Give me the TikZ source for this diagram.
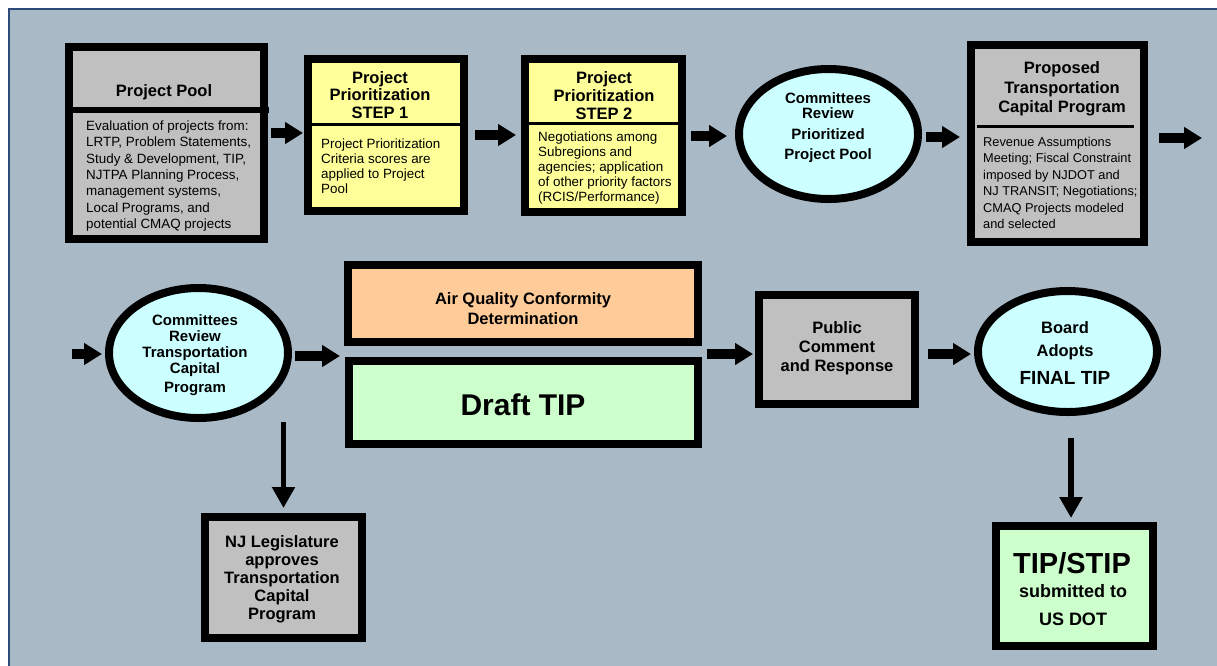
\documentclass[tikz,border=0pt]{standalone}
\usepackage{fontspec}
\setmainfont{Liberation Sans}
\usetikzlibrary{arrows.meta,shapes.geometric}
\definecolor{bgc}{HTML}{A9B9C6}
\definecolor{bordc}{HTML}{2E4A7A}
\definecolor{grayc}{HTML}{C0C0C0}
\definecolor{yellowc}{HTML}{FFFF99}
\definecolor{cyanc}{HTML}{CCFFFF}
\definecolor{orangec}{HTML}{FFCC99}
\definecolor{greenc}{HTML}{CCFFCC}
\newcommand{\myfs}[2]{\fontsize{#1}{#2}\selectfont}
\begin{document}
\begin{tikzpicture}[x=1pt,y=-1pt,
 box/.style={draw=black,line width=8pt,rectangle,inner sep=0pt,outer sep=4pt},
 ellnode/.style={draw=black,line width=8pt,ellipse,inner sep=0pt,outer sep=4pt,fill=cyanc},
 blk/.style={line width=10pt,-{Triangle[length=18pt,width=21pt]}},
 downarr/.style={line width=5.5pt,-{Triangle[length=21pt,width=22pt]}},
 divider/.style={line width=3pt},
 ttl/.style={font=\bfseries\myfs{16.5}{19},align=center,inner sep=0pt},
 ebold/.style={font=\bfseries\myfs{15}{16},align=center,inner sep=0pt},
 body/.style={font=\myfs{13.4}{16.3},align=left,inner sep=0pt,anchor=west},
]
\useasboundingbox (0,0) rectangle (1217,665);
\begin{scope}
\clip (0,0) rectangle (1217,665);
\fill[white] (0,0) rectangle (1217,665);
\filldraw[fill=bgc,draw=bordc,line width=1.8pt] (9,9) rectangle (1240,690);
\end{scope}

% ---- top row ----
\node[box,fill=grayc,minimum width=195pt,minimum height=192pt] (pool) at (166.5,143) {};
\draw[line width=6pt] (pool.west |- 0,110) -- ([xshift=1pt]pool.east |- 0,110);
\node[ttl] (poolt) at (164,92) {Project Pool};
\node[body] (poolb) at (86,176) {Evaluation of projects from:\\LRTP, Problem Statements,\\Study \& Development, TIP,\\NJTPA Planning Process,\\management systems,\\Local Programs, and\\potential CMAQ projects};

\node[box,fill=yellowc,minimum width=156pt,minimum height=152pt] (step1) at (386,135) {};
\draw[divider] ([xshift=4pt]step1.west |- 0,124) -- ([xshift=-4pt]step1.east |- 0,124);
\node[ttl,font=\bfseries\myfs{16.5}{17.5}] (step1t) at (380,95) {Project\\Prioritization\\STEP 1};
\node[body,font=\myfs{13.4}{15}] (step1b) at (321,166.5) {Project Prioritization\\Criteria scores are\\applied to Project\\Pool};

\node[box,fill=yellowc,minimum width=157pt,minimum height=153pt] (step2) at (603.5,135.5) {};
\draw[divider] ([xshift=4pt]step2.west |- 0,123) -- ([xshift=-4pt]step2.east |- 0,123);
\node[ttl,font=\bfseries\myfs{16.5}{18}] (step2t) at (604,96) {Project\\Prioritization\\STEP 2};
\node[body,font=\myfs{13.4}{15}] (step2b) at (538,168) {Negotiations among\\Subregions and\\agencies; application\\of other priority factors\\(RCIS/Performance)};

\node[ellnode,minimum width=179pt,minimum height=130pt] (ell1) at (828.5,134) {};
\node[ebold,font=\bfseries\myfs{15}{15}] (ell1t) at (828,128) {Committees\\Review\\[6pt]Prioritized\\[5pt]Project Pool};

\node[box,fill=grayc,minimum width=173pt,minimum height=197pt] (prop) at (1057.5,143.5) {};
\draw[divider] (977,126) -- (1134,126);
\node[ttl,font=\bfseries\myfs{16.5}{19.5}] (propt) at (1062,89) {Proposed\\Transportation\\Capital Program};
\node[body,font=\myfs{12.8}{16.4}] (propb) at (983,183) {Revenue Assumptions\\Meeting; Fiscal Constraint\\imposed by NJDOT and\\NJ TRANSIT; Negotiations;\\CMAQ Projects modeled\\and selected};

\coordinate (outr) at (1202,138);
\draw[blk,shorten <=3pt,shorten >=1pt] (pool.east |- 0,133) -- (step1.west |- 0,133);
\draw[blk,shorten <=7pt,shorten >=5pt] (step1.east |- 0,135) -- (step2.west |- 0,135);
\draw[blk,shorten <=5pt,shorten >=8pt] (step2.east |- 0,136) -- (ell1.west |- 0,136);
\draw[blk,shorten <=4pt,shorten >=7pt] (ell1.east |- 0,137) -- (prop.west |- 0,137);
\draw[blk,shorten <=11pt] (prop.east |- outr) -- (outr);

% ---- second row ----
\coordinate (inl) at (72,354);
\node[ellnode,minimum width=179pt,minimum height=130pt] (ell2) at (198.5,353) {};
\node[ebold] (ell2t) at (195,355) {Committees\\Review\\Transportation\\Capital\\[3pt]Program};

\node[box,fill=orangec,minimum width=350pt,minimum height=77pt] (aq) at (523,303.5) {};
\node[ttl,font=\bfseries\myfs{16.5}{20}] (aqt) at (523,309) {Air Quality Conformity\\Determination};
\node[box,fill=greenc,minimum width=349pt,minimum height=83pt] (draft) at (523.5,402.5) {};
\node[ttl,font=\bfseries\myfs{30}{30}] (draftt) at (523,405) {Draft TIP};

\node[box,fill=grayc,minimum width=156pt,minimum height=109pt] (pc) at (837,349.5) {};
\node[ttl,font=\bfseries\myfs{16.5}{19}] (pct) at (837,348) {Public\\Comment\\and Response};

\node[ellnode,minimum width=179pt,minimum height=121pt] (board) at (1067.5,351.5) {};
\node[ttl,font=\bfseries\myfs{16.5}{23}] (boardt) at (1065,341) {Board\\Adopts};
\node[ttl,font=\bfseries\myfs{19}{19}] (boardf) at (1065,378) {FINAL TIP};

\node[box,fill=grayc,minimum width=157pt,minimum height=121pt] (nj) at (283.5,577.5) {};
\node[ttl,font=\bfseries\myfs{16.5}{18}] (njt) at (282,579) {NJ Legislature\\approves\\Transportation\\Capital\\Program};

\node[box,fill=greenc,minimum width=157pt,minimum height=120pt] (tipstip) at (1074.5,586) {};
\node[ttl,font=\bfseries\myfs{29}{29}] (tipt) at (1072,563) {TIP/STIP};
\node[ttl,font=\bfseries\myfs{18}{28}] (tips) at (1073,605) {submitted to\\US DOT};

\draw[blk,shorten >=3pt] (inl) -- (ell2.west |- inl);
\draw[blk,shorten <=3pt,shorten >=4pt] (ell2.east |- 0,356) -- (aq.west |- 0,356);
\draw[blk,shorten <=5pt,shorten >=2pt] (draft.east |- 0,354) -- (pc.west |- 0,354);
\draw[blk,shorten <=9pt,shorten >=3pt] (pc.east |- 0,354) -- (board.west |- 0,354);
\draw[downarr,shorten >=5pt] (nj.north |- ell2.south) -- (nj.north);
\draw[downarr,shorten <=22pt,shorten >=4pt] ([xshift=3.5pt]board.south) -- ([xshift=-3.5pt]tipstip.north);
\end{tikzpicture}
\end{document}
